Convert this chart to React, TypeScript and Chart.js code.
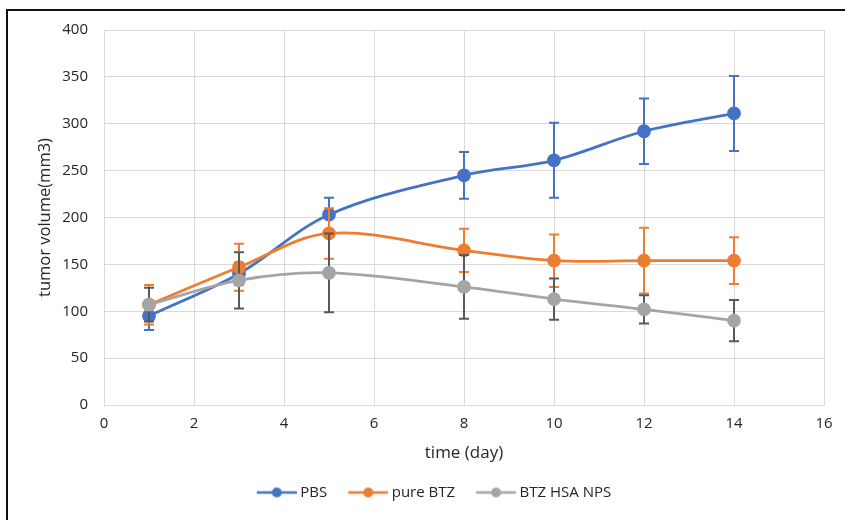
import React, { useEffect, useRef } from "react";
import { Chart, registerables } from "chart.js";

Chart.register(...registerables);

// ---- data ----
const days = [1, 3, 5, 8, 10, 12, 14];
const seriesNames = ["PBS", "pure BTZ", "BTZ HSA NPS"];
const pbsMean = [95, 140, 203, 245, 261, 292, 311];
const pbsErr = [15, 12, 18, 25, 40, 35, 40];
const btzMean = [107, 147, 183, 165, 154, 154, 154];
const btzErr = [21, 25, 27, 23, 28, 35, 25];
const npsMean = [107, 133, 141, 126, 113, 102, 90];
const npsErr = [18, 30, 42, 34, 22, 15, 22];
const xMin = 0;
const xMax = 16;
const xStep = 2;
const yMin = 0;
const yMax = 400;
const yStep = 50;
const xTitle = "time (day)";
const yTitle = "tumor volume(mm3)";

// ---- styles ----
const lineColors = ["#4472c4", "#ed7d31", "#a5a5a5"];
const errColors = ["#4472c4", "#ed7d31", "#595959"];
const textColor = "#262626";
const gridColor = "#d9d9d9";
const fontFamily = "'Open Sans', sans-serif";

const means = [pbsMean, btzMean, npsMean];
const errs = [pbsErr, btzErr, npsErr];

function makeMarker(color: string): HTMLCanvasElement {
  const c = document.createElement("canvas");
  c.width = 48;
  c.height = 14;
  const g = c.getContext("2d")!;
  g.strokeStyle = color;
  g.lineWidth = 2.5;
  g.beginPath();
  g.moveTo(8, 7);
  g.lineTo(48, 7);
  g.stroke();
  g.fillStyle = color;
  g.beginPath();
  g.arc(28, 7, 5, 0, Math.PI * 2);
  g.fill();
  return c;
}

const errorBarPlugin = {
  id: "errorBars",
  beforeDatasetDraw(chart: any, args: any) {
    const i = args.index;
    const e = errs[i];
    const m = means[i];
    if (!e) return;
    const { ctx, scales } = chart;
    const xs = scales.x;
    const ys = scales.y;
    ctx.save();
    ctx.strokeStyle = errColors[i];
    ctx.lineWidth = 2;
    for (let j = 0; j < days.length; j++) {
      const px = xs.getPixelForValue(days[j]);
      const top = ys.getPixelForValue(m[j] + e[j]);
      const bot = ys.getPixelForValue(m[j] - e[j]);
      ctx.beginPath();
      ctx.moveTo(px, top);
      ctx.lineTo(px, bot);
      ctx.moveTo(px - 5, top);
      ctx.lineTo(px + 5, top);
      ctx.moveTo(px - 5, bot);
      ctx.lineTo(px + 5, bot);
      ctx.stroke();
    }
    ctx.restore();
  },
};

const legendShiftPlugin = {
  id: "legendShift",
  afterLayout(chart: any) {
    const lg = chart.legend;
    if (lg) {
      lg.left += 20;
      lg.right += 20;
    }
  },
};

export default function App() {
  const ref = useRef<HTMLCanvasElement | null>(null);

  useEffect(() => {
    const canvas = ref.current;
    if (!canvas) return;
    const markers = lineColors.map((c) => makeMarker(c));
    const datasets = seriesNames.map((name, i) => ({
      label: name,
      data: days.map((d, j) => ({ x: d, y: means[i][j] })),
      borderColor: lineColors[i],
      backgroundColor: lineColors[i],
      pointBackgroundColor: lineColors[i],
      pointBorderColor: lineColors[i],
      pointRadius: 5.5,
      pointHoverRadius: 5.5,
      borderWidth: 2.8,
      tension: 0.35,
      fill: false,
      order: seriesNames.length - i,
      clip: false as any,
    }));

    const chart = new Chart(canvas, {
      type: "line",
      data: { datasets },
      plugins: [errorBarPlugin, legendShiftPlugin],
      options: {
        responsive: false,
        animation: false,
        devicePixelRatio: 1,
        layout: { padding: { left: 0, right: 21, top: 30, bottom: 10 } },
        plugins: {
          tooltip: { enabled: false },
          legend: {
            position: "bottom",
            labels: {
              usePointStyle: true,
              pointStyleWidth: 40,
              padding: 17,
              color: textColor,
              font: { family: fontFamily, size: 15 },
              generateLabels: (ch: any) =>
                ch.data.datasets.map((ds: any, i: number) => ({
                  text: ds.label,
                  pointStyle: markers[i],
                  fillStyle: "transparent",
                  strokeStyle: "transparent",
                  lineWidth: 0,
                  hidden: false,
                  datasetIndex: i,
                  fontColor: textColor,
                })),
            },
          },
        },
        scales: {
          x: {
            type: "linear",
            min: xMin,
            max: xMax,
            afterFit: (s: any) => {
              s.height = 63;
            },
            ticks: {
              stepSize: xStep,
              padding: 10,
              color: textColor,
              font: { family: fontFamily, size: 15 },
            },
            grid: { color: gridColor, lineWidth: 1, drawTicks: false },
            border: { color: gridColor, width: 1 },
            title: {
              display: true,
              text: xTitle,
              color: textColor,
              font: { family: fontFamily, size: 17 },
              padding: { top: 0, bottom: 5 },
            },
          },
          y: {
            type: "linear",
            min: yMin,
            max: yMax,
            afterFit: (s: any) => {
              s.width = 104;
            },
            ticks: {
              stepSize: yStep,
              padding: 16,
              color: textColor,
              font: { family: fontFamily, size: 15 },
            },
            grid: { color: gridColor, lineWidth: 1, drawTicks: false },
            border: { color: gridColor, width: 1 },
            title: {
              display: true,
              text: yTitle,
              color: textColor,
              font: { family: fontFamily, size: 16.5 },
              padding: { top: 35, bottom: 0 },
            },
          },
        },
      },
    });
    return () => chart.destroy();
  }, []);

  return (
    <div
      style={{
        position: "fixed",
        left: 0,
        top: 0,
        width: 845,
        height: 520,
        background: "#ffffff",
        overflow: "hidden",
      }}
    >
      <div
        style={{
          position: "absolute",
          left: 6,
          top: 9,
          width: 900,
          height: 600,
          borderLeft: "2px solid #111",
          borderTop: "2px solid #111",
        }}
      />
      <canvas
        ref={ref}
        width={845}
        height={520}
        style={{ position: "absolute", left: 0, top: 0 }}
      />
    </div>
  );
}
